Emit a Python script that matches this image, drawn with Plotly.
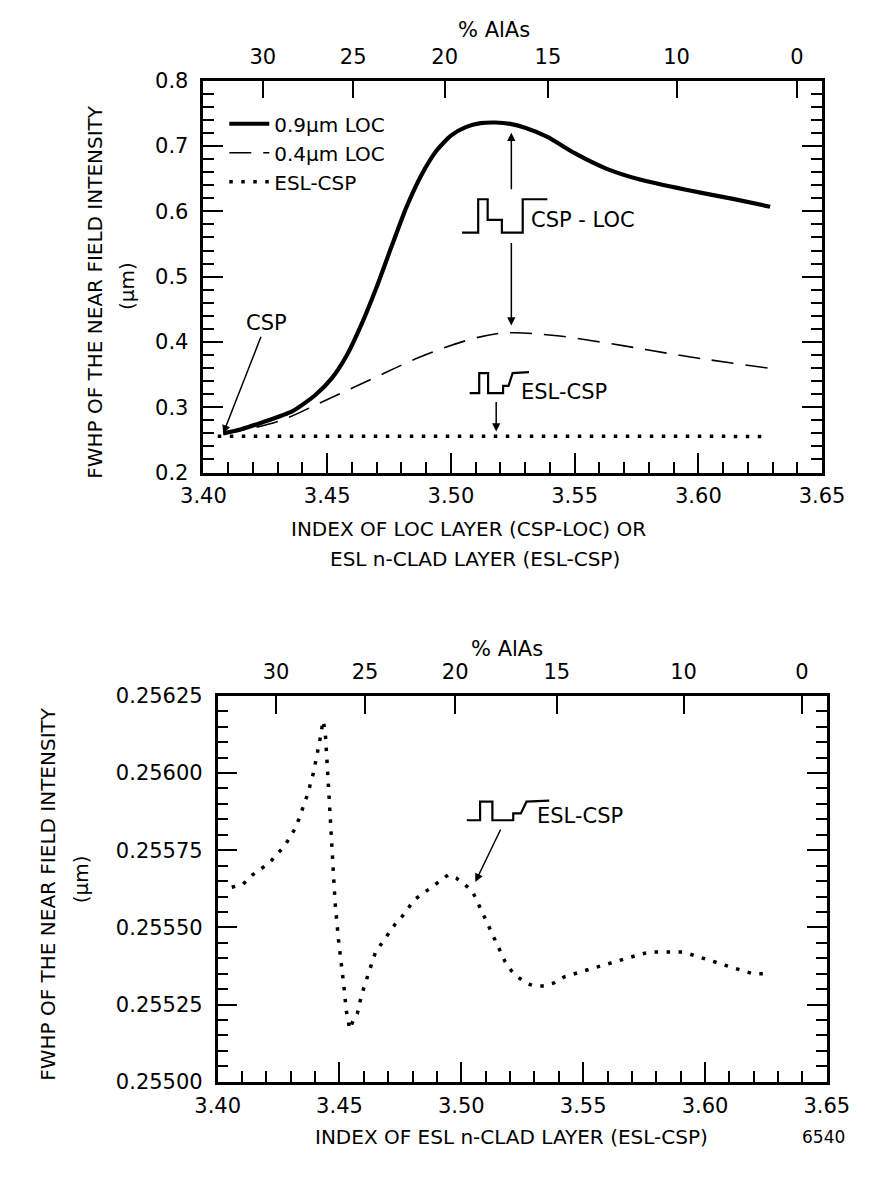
import plotly.graph_objects as go

# ---------------- data ----------------
# top chart: FWHP vs index of LOC layer (CSP-LOC)
loc09_x = [3.408, 3.415, 3.424, 3.436, 3.445, 3.452, 3.458, 3.464, 3.470, 3.476, 3.482, 3.488,
           3.494, 3.500, 3.506, 3.512, 3.518, 3.524, 3.530, 3.539, 3.550, 3.563, 3.576, 3.595,
           3.614, 3.629]
loc09_y = [0.260, 0.266, 0.277, 0.294, 0.318, 0.345, 0.380, 0.428, 0.484, 0.546, 0.606, 0.655,
           0.692, 0.716, 0.729, 0.735, 0.736, 0.734, 0.728, 0.714, 0.689, 0.665, 0.649, 0.633,
           0.619, 0.607]
loc04_x = [3.408, 3.412, 3.430, 3.449, 3.468, 3.487, 3.507, 3.519, 3.526, 3.544, 3.570, 3.595, 3.628]
loc04_y = [0.259, 0.262, 0.278, 0.310, 0.343, 0.376, 0.403, 0.413, 0.414, 0.409, 0.394, 0.378, 0.360]

# ESL-CSP (bottom chart, also drawn in the top chart)
esl_x = [3.4058, 3.4104, 3.4143, 3.4179, 3.4214, 3.4246, 3.4272, 3.4295, 3.4318, 3.4333, 3.4346,
         3.4360, 3.4373, 3.4382, 3.4393, 3.4403, 3.4411, 3.4419, 3.4425, 3.4432, 3.4441, 3.4451,
         3.4460, 3.4470, 3.4482, 3.4496, 3.4507, 3.4518, 3.4528, 3.4535, 3.4542, 3.4557, 3.4573,
         3.4590, 3.4605, 3.4618, 3.4631, 3.4648, 3.4674, 3.4700, 3.4728, 3.4752, 3.4778, 3.4808,
         3.4843, 3.4877, 3.4914, 3.4946, 3.4979, 3.5011, 3.5043, 3.5056, 3.5073, 3.5091, 3.5108,
         3.5128, 3.5144, 3.5160, 3.5179, 3.5205, 3.5231, 3.5264, 3.5300, 3.5339, 3.5380, 3.5423,
         3.5462, 3.5504, 3.5549, 3.5594, 3.5633, 3.5678, 3.5724, 3.5769, 3.5815, 3.5862, 3.5909,
         3.5953, 3.5996, 3.6035, 3.6073, 3.6112, 3.6155, 3.6197, 3.6255]
esl_y = [0.25563, 0.25564, 0.25567, 0.25569, 0.25571, 0.25574, 0.25576, 0.25579, 0.25582, 0.25585,
         0.25588, 0.25591, 0.25594, 0.25597, 0.25600, 0.25604, 0.25607, 0.25610, 0.25613, 0.25617,
         0.25614, 0.25601, 0.25587, 0.25573, 0.25558, 0.25546, 0.25539, 0.25531, 0.25523, 0.25520,
         0.25517, 0.25520, 0.25522, 0.25528, 0.25532, 0.25535, 0.25538, 0.25542, 0.25545, 0.25548,
         0.25551, 0.25553, 0.25556, 0.25559, 0.25561, 0.25563, 0.25565, 0.25567, 0.25566, 0.25564,
         0.25562, 0.25560, 0.25557, 0.25554, 0.25551, 0.25548, 0.25545, 0.25542, 0.25539, 0.25536,
         0.25534, 0.25532, 0.25531, 0.25531, 0.25532, 0.25534, 0.25535, 0.25536, 0.25537, 0.25538,
         0.25539, 0.25540, 0.25541, 0.25542, 0.25542, 0.25542, 0.25542, 0.25541, 0.25540, 0.25539,
         0.25538, 0.25537, 0.25536, 0.25535, 0.25535]

# axis ticks
index_ticks = [3.40, 3.45, 3.50, 3.55, 3.60, 3.65]
index_labels = ["3.40", "3.45", "3.50", "3.55", "3.60", "3.65"]
alas_labels = ["30", "25", "20", "15", "10", "0"]
alas_index = [3.424, 3.4605, 3.4975, 3.5392, 3.5912, 3.6398]
top_y_ticks = [0.2, 0.3, 0.4, 0.5, 0.6, 0.7, 0.8]
top_y_labels = ["0.2", "0.3", "0.4", "0.5", "0.6", "0.7", "0.8"]
bot_y_ticks = [0.25500, 0.25525, 0.25550, 0.25575, 0.25600, 0.25625]
bot_y_labels = ["0.25500", "0.25525", "0.25550", "0.25575", "0.25600", "0.25625"]

# ---------------- layout geometry (screen pixels; page body has an 8px margin) ----------------
OFF = 8
W, H = 883 - OFF, 1179 - OFF
TOP = dict(l=190, r=843, t=70, b=470)
BOT = dict(l=205, r=848, t=698, b=1092)
X_RANGE = [3.40, 3.65]
TOP_YR = [0.2, 0.8]
BOT_YR = [0.25500, 0.25625]
FONT = "DejaVu Sans"


def dom_x(b):
    return [(b["l"] - OFF) / W, (b["r"] - OFF) / W]


def dom_y(b):
    return [1 - (b["b"] - OFF) / H, 1 - (b["t"] - OFF) / H]


def to_data(b, yr, px, py):
    x = X_RANGE[0] + (px - b["l"]) / (b["r"] - b["l"]) * (X_RANGE[1] - X_RANGE[0])
    y = yr[0] + (b["b"] - py) / (b["b"] - b["t"]) * (yr[1] - yr[0])
    return x, y


def px_paper(px, py):
    return (px - OFF) / W, 1 - (py - OFF) / H


fig = go.Figure()

fig.add_trace(go.Scatter(x=loc09_x, y=loc09_y, mode="lines", name="0.9μm LOC",
                         line=dict(color="black", width=4.2, shape="spline", smoothing=0.6),
                         xaxis="x", yaxis="y"))
fig.add_trace(go.Scatter(x=loc04_x, y=loc04_y, mode="lines", name="0.4μm LOC",
                         line=dict(color="black", width=1.6, dash="22px,12px", shape="spline"),
                         xaxis="x", yaxis="y"))
fig.add_trace(go.Scatter(x=esl_x, y=esl_y, mode="lines", name="ESL-CSP",
                         line=dict(color="black", width=3.5, dash="3.5px,8.5px"), xaxis="x", yaxis="y"))
fig.add_trace(go.Scatter(x=esl_x, y=esl_y, mode="lines", name="ESL-CSP", showlegend=False,
                         line=dict(color="black", width=3.5, dash="3.5px,8.5px"), xaxis="x3", yaxis="y3"))

tickfont = dict(family=FONT, size=21, color="black")
common_x = dict(range=X_RANGE, tickmode="array", tickvals=index_ticks, ticktext=index_labels,
                ticks="inside", ticklen=20, tickwidth=2, tickcolor="black",
                minor=dict(tick0=3.40, dtick=0.01, ticks="inside", ticklen=11, tickwidth=2,
                           tickcolor="black", showgrid=False),
                showline=True, linewidth=2.5, linecolor="black", showgrid=False, zeroline=False,
                tickfont=tickfont, ticklabelstandoff=3)
common_top = dict(range=X_RANGE, side="top", tickmode="array", tickvals=alas_index, ticktext=alas_labels,
                  ticks="inside", ticklen=18, tickwidth=2, tickcolor="black",
                  showline=True, linewidth=2.5, linecolor="black", showgrid=False, zeroline=False,
                  tickfont=tickfont, ticklabelstandoff=6)
common_y = dict(tickmode="array", ticks="inside", ticklen=20, tickwidth=2, tickcolor="black",
                mirror="ticks", showline=True, linewidth=2.5, linecolor="black",
                showgrid=False, zeroline=False, tickfont=tickfont, ticklabelstandoff=8)

fig.update_layout(
    width=W, height=H, autosize=False,
    margin=dict(l=0, r=0, t=0, b=0),
    paper_bgcolor="white", plot_bgcolor="white",
    font=dict(family=FONT, color="black"),
    xaxis=dict(domain=dom_x(TOP), anchor="y", **common_x),
    xaxis2=dict(domain=dom_x(TOP), anchor="y", overlaying="x", **common_top),
    yaxis=dict(domain=dom_y(TOP), anchor="x", range=TOP_YR, tickvals=top_y_ticks, ticktext=top_y_labels,
               minor=dict(tick0=0.2, dtick=0.02, ticks="inside", ticklen=11, tickwidth=2,
                          tickcolor="black", showgrid=False),
               **common_y),
    xaxis3=dict(domain=dom_x(BOT), anchor="y3", **common_x),
    xaxis4=dict(domain=dom_x(BOT), anchor="y3", overlaying="x3", **common_top),
    yaxis3=dict(domain=dom_y(BOT), anchor="x3", range=BOT_YR, tickvals=bot_y_ticks, ticktext=bot_y_labels,
                minor=dict(tick0=0.255, dtick=0.00005, ticks="inside", ticklen=11, tickwidth=2,
                           tickcolor="black", showgrid=False),
                **common_y),
    showlegend=True,
    legend=dict(x=(212 - OFF) / W, y=1 - (94 - OFF) / H, xanchor="left", yanchor="top",
                bgcolor="rgba(0,0,0,0)", font=dict(family=FONT, size=20, color="black"),
                tracegroupgap=0, itemwidth=40),
)

# invisible traces to activate overlay top axes
fig.add_trace(go.Scatter(x=[X_RANGE[0]], y=[TOP_YR[0]], mode="markers", marker=dict(opacity=0),
                         showlegend=False, hoverinfo="skip", xaxis="x2", yaxis="y"))
fig.add_trace(go.Scatter(x=[X_RANGE[0]], y=[BOT_YR[0]], mode="markers", marker=dict(opacity=0),
                         showlegend=False, hoverinfo="skip", xaxis="x4", yaxis="y3"))

ann = []


def paper_text(text, px, py, angle=0, size=20, xanchor="center"):
    x, y = px_paper(px, py)
    ann.append(dict(x=x, y=y, xref="paper", yref="paper", text=text, showarrow=False,
                    textangle=angle, xanchor=xanchor, yanchor="middle",
                    font=dict(family=FONT, size=size, color="black")))


# titles
paper_text("% AlAs", 497, 18, size=21)
paper_text("% AlAs", 510, 650, size=21)
paper_text("FWHP OF THE NEAR FIELD INTENSITY", 76, 285, angle=-90)
paper_text("(μm)", 110, 280, angle=-90)
paper_text("FWHP OF THE NEAR FIELD INTENSITY", 26, 900, angle=-90)
paper_text("(μm)", 61, 885, angle=-90)
paper_text("INDEX OF LOC LAYER (CSP-LOC) OR", 470, 528)
paper_text("ESL n-CLAD LAYER (ESL-CSP)", 477, 558)
paper_text("INDEX OF ESL n-CLAD LAYER (ESL-CSP)", 515, 1148)
paper_text("6540", 845, 1148, size=17)

arrow_style = dict(showarrow=True, arrowhead=2, arrowsize=1.1, arrowwidth=1.5, arrowcolor="black",
                   standoff=0, startstandoff=0)

# CSP arrow (points to start of curves)
ann.append(dict(x=loc09_x[0], y=loc09_y[0], xref="x", yref="y", text="CSP", ax=43, ay=-110,
                font=dict(family=FONT, size=21, color="black"), **arrow_style))

# CSP-LOC arrows
xa, _ = to_data(TOP, TOP_YR, 515, 0)
_, ya_up = to_data(TOP, TOP_YR, 0, 123)
_, ya_dn = to_data(TOP, TOP_YR, 0, 320)
ann.append(dict(x=xa, y=ya_up, xref="x", yref="y", text="", ax=0, ay=58, **arrow_style))
ann.append(dict(x=xa, y=ya_dn, xref="x", yref="y", text="", ax=0, ay=-84, **arrow_style))
tx, ty = to_data(TOP, TOP_YR, 534, 212)
ann.append(dict(x=tx, y=ty, xref="x", yref="y", text="CSP - LOC", showarrow=False, xanchor="left",
                yanchor="middle", font=dict(family=FONT, size=21, color="black")))

# ESL-CSP arrow in top chart
xe, _ = to_data(TOP, TOP_YR, 499, 0)
_, ye = to_data(TOP, TOP_YR, 0, 428)
ann.append(dict(x=xe, y=ye, xref="x", yref="y", text="", ax=0, ay=-31, **arrow_style))
tx, ty = to_data(TOP, TOP_YR, 523, 388)
ann.append(dict(x=tx, y=ty, xref="x", yref="y", text="ESL-CSP", showarrow=False, xanchor="left",
                yanchor="middle", font=dict(family=FONT, size=21, color="black")))

# ESL-CSP arrow in bottom chart
xb, yb = to_data(BOT, BOT_YR, 477, 888)
ann.append(dict(x=xb, y=yb, xref="x3", yref="y3", text="", ax=26, ay=-54, **arrow_style))
tx, ty = to_data(BOT, BOT_YR, 540, 821)
ann.append(dict(x=tx, y=ty, xref="x3", yref="y3", text="ESL-CSP", showarrow=False, xanchor="left",
                yanchor="middle", font=dict(family=FONT, size=21, color="black")))

fig.update_layout(annotations=ann)

# index-profile schematics
csp_loc_step = [(0, 0), (17, 0), (17, -34), (27, -34), (27, -13), (42, -13), (42, 0), (64, 0),
                (64, -34), (90, -34)]
esl_step = [(0, 0), (14, 0), (14, -19), (27, -19), (27, 0), (49, 0), (49, -7), (57, -7),
            (63, -19), (87, -20)]


def path_shape(b, yr, xref, yref, ox, oy, pts, sx=1.0, sy=1.0):
    segs = []
    for i, (dx, dy) in enumerate(pts):
        x, y = to_data(b, yr, ox + dx * sx, oy + dy * sy)
        segs.append(("M" if i == 0 else "L") + f"{x},{y}")
    return dict(type="path", path=" ".join(segs), xref=xref, yref=yref,
                line=dict(color="black", width=2.2))


fig.add_shape(**path_shape(TOP, TOP_YR, "x", "y", 463, 225, csp_loc_step))
fig.add_shape(**path_shape(TOP, TOP_YR, "x", "y", 471, 389, esl_step, sx=0.72, sy=1.08))
fig.add_shape(**path_shape(BOT, BOT_YR, "x3", "y3", 468, 825, esl_step))

fig.write_html("out.html")
